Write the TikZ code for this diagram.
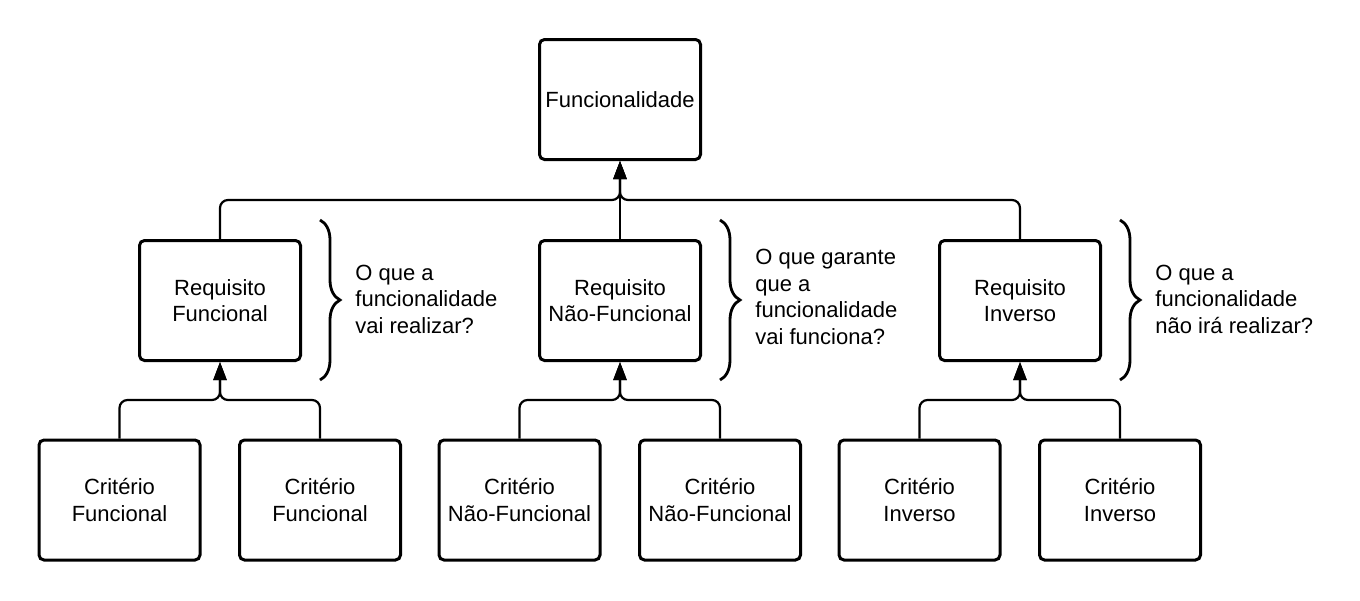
\documentclass[tikz,border=0pt]{standalone}
\usepackage{fontspec}
\setmainfont{Liberation Sans}
\usetikzlibrary{arrows.meta,decorations.pathreplacing}
\begin{document}
\begin{tikzpicture}[x=0.5pt,y=-0.5pt,
  box/.style={draw=black,line width=1.5pt,rounded corners=2.5pt,minimum width=80.5pt,minimum height=60pt,inner sep=0pt,align=center,font=\fontsize{11}{13.25}\selectfont},
  conn/.style={draw=black,line width=1.1pt,rounded corners=4pt},
  arr/.style={conn,-{Triangle[length=9pt,width=6.5pt]}},
  brc/.style={draw=black,line width=1.4pt,decorate,decoration={brace,amplitude=10pt}},
  note/.style={anchor=west,align=left,inner sep=0pt,font=\fontsize{11}{13.25}\selectfont}]
\useasboundingbox (0,0) rectangle (1360,600);
\node[box] (f) at (620,99.5) {Funcionalidade};
\node[box] (r1) at (220,300.5) {Requisito\\Funcional};
\node[box] (r2) at (620,300.5) {Requisito\\Não-Funcional};
\node[box] (r3) at (1020,300.5) {Requisito\\Inverso};
\node[box] (c1) at (119.5,500) {Critério\\Funcional};
\node[box] (c2) at (320,500) {Critério\\Funcional};
\node[box] (c3) at (519.5,500) {Critério\\Não-Funcional};
\node[box] (c4) at (720,500) {Critério\\Não-Funcional};
\node[box] (c5) at (919.5,500) {Critério\\Inverso};
\node[box] (c6) at (1120,500) {Critério\\Inverso};
\coordinate (jt) at (620,200);
\coordinate (j1) at (220,400);
\coordinate (j2) at (620,400);
\coordinate (j3) at (1020,400);
\draw[arr] (r1.north) |- (jt) -- (f.south);
\draw[arr] (r3.north) |- (jt) -- (f.south);
\draw[arr] (r2.north) -- (f.south);
\draw[arr] (c1.north) |- (j1) -- (r1.south);
\draw[arr] (c2.north) |- (j1) -- (r1.south);
\draw[arr] (c3.north) |- (j2) -- (r2.south);
\draw[arr] (c4.north) |- (j2) -- (r2.south);
\draw[arr] (c5.north) |- (j3) -- (r3.south);
\draw[arr] (c6.north) |- (j3) -- (r3.south);
\coordinate (b1t) at (320,220); \coordinate (b1b) at (320,380);
\coordinate (b2t) at (720,220); \coordinate (b2b) at (720,380);
\coordinate (b3t) at (1120,220); \coordinate (b3b) at (1120,380);
\draw[brc] (b1t) -- (b1b);
\draw[brc] (b2t) -- (b2b);
\draw[brc] (b3t) -- (b3b);
\node[note] (n1) at (355,299) {O que a\\funcionalidade\\vai realizar?};
\node[note] (n2) at (755,297) {O que garante\\que a\\funcionalidade\\vai funciona?};
\node[note] (n3) at (1155,299) {O que a\\funcionalidade\\não irá realizar?};
\end{tikzpicture}
\end{document}
